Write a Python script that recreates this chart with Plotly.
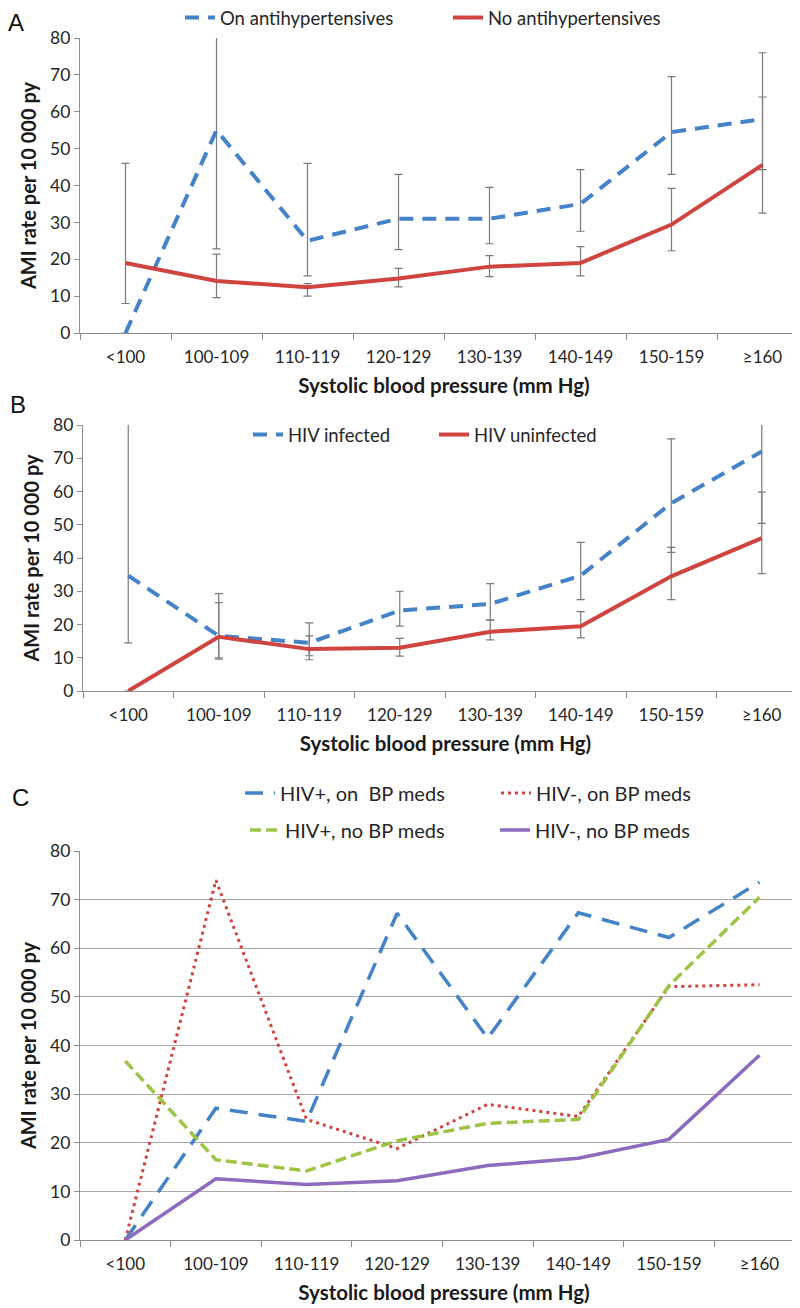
import plotly.graph_objects as go

# systolic BP categories
bp_cats = ["<100", "100-109", "110-119", "120-129", "130-139", "140-149", "150-159", "≥160"]

# panel A - by antihypertensive use (rate, upper CI, lower CI)
on_anti = [0, 55, 25, 31, 31, 35, 54.5, 58]
on_anti_hi = [None, 95, 46, 43, 39.5, 44.3, 69.5, 76]
on_anti_lo = [None, 22.8, 15.5, 22.6, 24.2, 27.6, 43, 44.3]
no_anti = [19, 14.1, 12.4, 14.8, 18, 19, 29.4, 45.6]
no_anti_hi = [46, 21.4, 13.4, 17.5, 21, 23.4, 39.2, 64]
no_anti_lo = [8, 9.6, 10, 12.5, 15.3, 15.5, 22.3, 32.5]

# panel B - by HIV status
hiv_inf = [34.7, 16.6, 14.5, 24.2, 26.2, 34.7, 56.5, 72]
hiv_inf_hi = [95, 29.3, 20.5, 30, 32.3, 44.7, 75.8, 95]
hiv_inf_lo = [14.5, 10, 10.6, 19.5, 21.4, 27.5, 41.7, 50.4]
hiv_un = [0, 16.3, 12.6, 13, 17.8, 19.5, 34.5, 46]
hiv_un_hi = [None, 26.6, 16.6, 15.8, 21.2, 23.9, 43.2, 59.8]
hiv_un_lo = [None, 9.6, 9.4, 10.5, 15.4, 16, 27.5, 35.3]

# panel C - HIV status x BP meds
pos_on = [0, 27.1, 24.4, 67.2, 41.5, 67.3, 62.2, 73.6]
neg_on = [0, 74, 24.8, 18.8, 27.9, 25.4, 52.1, 52.5]
pos_no = [36.8, 16.5, 14.2, 20.4, 24, 24.8, 52.3, 70.5]
neg_no = [0, 12.6, 11.4, 12.2, 15.3, 16.8, 20.7, 38]

BLUE = "#4483C8"
RED = "#D04440"
GREEN = "#9CC546"
PURPLE = "#8C6BBE"
GREY = "#8C8C8C"
FONT = "Lato"


def err(vals, hi, lo):
    up = [None if h is None else h - v for v, h in zip(vals, hi)]
    down = [None if l is None else v - l for v, l in zip(vals, lo)]
    return dict(type="data", symmetric=False, array=up, arrayminus=down,
                color="#7A7A7A", thickness=1.2, width=4)


fig = go.Figure()

# panel A
fig.add_trace(go.Scatter(x=bp_cats, y=on_anti, mode="lines", name="On antihypertensives",
                         line=dict(color=BLUE, width=4, dash="14px,9px"),
                         error_y=err(on_anti, on_anti_hi, on_anti_lo),
                         xaxis="x", yaxis="y", legend="legend"))
fig.add_trace(go.Scatter(x=bp_cats, y=no_anti, mode="lines", name="No antihypertensives",
                         line=dict(color=RED, width=4),
                         error_y=err(no_anti, no_anti_hi, no_anti_lo),
                         xaxis="x", yaxis="y", legend="legend"))

# panel B
fig.add_trace(go.Scatter(x=bp_cats, y=hiv_inf, mode="lines", name="HIV infected",
                         line=dict(color=BLUE, width=4, dash="14px,9px"),
                         error_y=err(hiv_inf, hiv_inf_hi, hiv_inf_lo),
                         xaxis="x2", yaxis="y2", legend="legend2"))
fig.add_trace(go.Scatter(x=bp_cats, y=hiv_un, mode="lines", name="HIV uninfected",
                         line=dict(color=RED, width=4),
                         error_y=err(hiv_un, hiv_un_hi, hiv_un_lo),
                         xaxis="x2", yaxis="y2", legend="legend2"))

# panel C
fig.add_trace(go.Scatter(x=bp_cats, y=pos_on, mode="lines", name="HIV+, on\u00a0 BP meds",
                         line=dict(color=BLUE, width=3.5, dash="18px,11px"),
                         xaxis="x3", yaxis="y3", legend="legend3"))
fig.add_trace(go.Scatter(x=bp_cats, y=neg_on, mode="lines", name="HIV-, on BP meds",
                         line=dict(color=RED, width=3, dash="3px,4px"),
                         xaxis="x3", yaxis="y3", legend="legend3"))
fig.add_trace(go.Scatter(x=bp_cats, y=pos_no, mode="lines", name="HIV+, no BP meds",
                         line=dict(color=GREEN, width=3.5, dash="11px,5px"),
                         xaxis="x3", yaxis="y3", legend="legend4"))
fig.add_trace(go.Scatter(x=bp_cats, y=neg_no, mode="lines", name="HIV-, no BP meds",
                         line=dict(color=PURPLE, width=3.5),
                         xaxis="x3", yaxis="y3", legend="legend4"))

H = 1308.0
W = 800.0
OFF = 8.0  # page body margin, positions below are page pixels
L = 80.0 - OFF
PW = W - L


def dom(top_px, bot_px):
    return [1 - (bot_px - OFF) / H, 1 - (top_px - OFF) / H]


def px(x):
    # page pixel -> paper x
    return (x - OFF - L) / PW


def py(y):
    return 1 - (y - OFF) / H


def xax(anchor, cat_w, start_px=80.0):
    start = px(start_px)
    return dict(domain=[start, 1], anchor=anchor, type="category",
                range=[-0.5, -0.5 + PW * (1 - start) / cat_w],
                tickson="boundaries", ticks="outside", ticklen=6, tickcolor=GREY, tickwidth=1.3,
                ticklabelstandoff=8,
                showline=True, linecolor=GREY, linewidth=1.3, showgrid=False, zeroline=False,
                tickfont=dict(family=FONT, size=17, color="#262626"),
                title=dict(text="<b>Systolic blood pressure (mm Hg)</b>", standoff=13,
                           font=dict(family=FONT, size=20.5, color="#1a1a1a")))


def yax(anchor, d, grid=False):
    return dict(domain=d, anchor=anchor, range=[0, 80], dtick=10, ticks="outside", ticklen=5,
                tickcolor=GREY, tickwidth=1.3, showline=True, linecolor=GREY, linewidth=1.3,
                showgrid=grid, gridcolor="#A8A8A8", gridwidth=1.4, zeroline=False,
                tickfont=dict(family=FONT, size=17.5, color="#262626"),
                title=dict(text="<b>AMI rate per 10 000 py</b>", standoff=8,
                           font=dict(family=FONT, size=20, color="#1a1a1a")))


def leg(x, y, w, size=18.5):
    return dict(orientation="h", x=px(x), y=py(y), xanchor="left", yanchor="middle",
                entrywidth=w, entrywidthmode="pixels", bgcolor="rgba(0,0,0,0)",
                font=dict(family=FONT, size=size, color="#262626"), traceorder="normal")


def label(text, x, y):
    return dict(text=text, x=px(x), y=py(y), xref="paper", yref="paper", showarrow=False,
                xanchor="left", yanchor="middle", borderpad=0,
                font=dict(family="Liberation Sans", size=24, color="#111"))


fig.update_layout(
    width=800, height=1308,
    margin=dict(l=L, r=0, t=0, b=0, autoexpand=False),
    paper_bgcolor="white", plot_bgcolor="white",
    showlegend=True,
    xaxis=xax("y", 91),
    yaxis=yax("x", dom(38, 333)),
    xaxis2=xax("y2", 90.5, 83),
    yaxis2=yax("x2", dom(425, 691)),
    xaxis3=xax("y3", 90.6),
    yaxis3=yax("x3", dom(851, 1240), grid=True),
    legend=leg(180, 18, 223),
    legend2=leg(248, 435, 141),
    legend3=leg(240, 793, 211, 20),
    legend4=leg(245, 830, 205, 20),
    annotations=[label("A", 7, 22), label("B", 9, 405), label("C", 11, 797)],
)

fig.write_html("out.html")
